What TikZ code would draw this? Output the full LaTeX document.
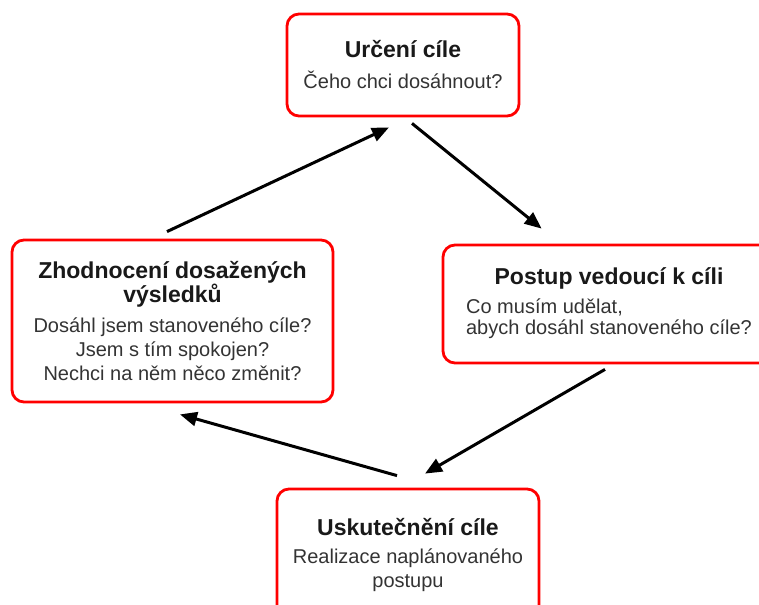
\documentclass[tikz,border=0pt]{standalone}
\usepackage{fontspec}
\setmainfont{Liberation Sans}
\usetikzlibrary{arrows.meta}
\begin{document}
\begin{tikzpicture}[x=1pt, y=-1pt, line join=round,
  box/.style={draw=red, line width=2.8pt, rounded corners=12pt, align=center, inner sep=0pt,
    font=\fontsize{20}{24}\selectfont, text=black!80},
  arr/.style={line width=3pt, -{Triangle[length=17pt,width=14pt]}}]
 \def\ttl#1{{\fontsize{23}{25}\selectfont\bfseries\color{black!90}#1}}
 \clip (0,0) rectangle (759,604);
 \node[box, minimum width=232pt, minimum height=102pt] (cil) at (403,65)
   {\ttl{Určení cíle}\\[7pt] Čeho chci dosáhnout?};
 \node[box, minimum width=321pt, minimum height=162pt] (zhod) at (172.5,321)
   {\ttl{Zhodnocení dosažených}\\ \ttl{výsledků}\\[6pt] Dosáhl jsem stanoveného cíle?\\ Jsem s tím spokojen?\\ Nechci na něm něco změnit?};
 \node[box, minimum width=332pt, minimum height=118pt] (post) at (609,304)
   {\ttl{Postup vedoucí k cíli}\\[9pt]
    \renewcommand\arraystretch{0.85}\begin{tabular}{@{}l@{}}Co musím udělat,\\ abych dosáhl stanoveného cíle?\end{tabular}};
 \node[box, minimum width=262pt, minimum height=132pt] (usk) at (408,555)
   {\ttl{Uskutečnění cíle}\\[4pt] Realizace naplánovaného\\ postupu};
 % cyklus
 \draw[arr] ([xshift=-5.5pt,yshift=7pt]zhod.north) -- ([xshift=-14pt,yshift=-10pt]cil.south);
 \draw[arr] ([xshift=9pt,yshift=-6pt]cil.south) -- ([xshift=100pt,yshift=15pt]post.north west);
 \draw[arr] ([xshift=-4pt,yshift=-5pt]post.south) -- ([xshift=17pt,yshift=14pt]usk.north);
 \draw[arr] ([xshift=-11pt,yshift=12pt]usk.north) -- ([xshift=7.5pt,yshift=-11pt]zhod.south);
\end{tikzpicture}
\end{document}
